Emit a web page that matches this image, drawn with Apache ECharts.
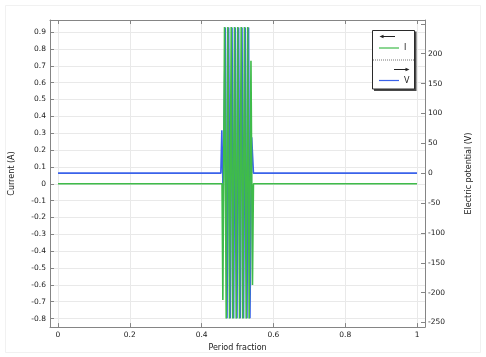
<!DOCTYPE html>
<html><head><meta charset="utf-8">
<script src="https://cdn.jsdelivr.net/npm/echarts@6/dist/echarts.min.js"></script>
<style>html,body{margin:0;padding:0;background:#fff}#c{width:486px;height:357px}</style>
</head><body><div id="c"></div>
<script>
// ---- tick values / labels ----
const xTicks = [0, 0.2, 0.4, 0.6, 0.8, 1];
const xTickLabels = ['0', '0.2', '0.4', '0.6', '0.8', '1'];
const currentTicks = [-0.8, -0.7, -0.6, -0.5, -0.4, -0.3, -0.2, -0.1, 0, 0.1, 0.2, 0.3, 0.4, 0.5, 0.6, 0.7, 0.8, 0.9];
const currentTickLabels = ['-0.8', '-0.7', '-0.6', '-0.5', '-0.4', '-0.3', '-0.2', '-0.1', '0', '0.1', '0.2', '0.3', '0.4', '0.5', '0.6', '0.7', '0.8', '0.9'];
const potentialTicks = [-250, -200, -150, -100, -50, 0, 50, 100, 150, 200, 250];
const potentialLabelValues = [-250, -200, -150, -100, -50, 0, 50, 100, 150, 200];
const potentialTickLabels = ['-250', '-200', '-150', '-100', '-50', '0', '50', '100', '150', '200'];

// ---- series: current I (A) ----
const periodI = [0, 0.4569, 0.4592, 0.4639, 0.4686, 0.4731, 0.4778, 0.4825, 0.4869, 0.4917, 0.4964, 0.5008, 0.5056, 0.5103, 0.5147, 0.5194, 0.5242, 0.5286, 0.5325, 0.5375, 0.5417, 0.5444, 1];
const currentI = [0, 0, -0.69, 0.93, -0.80, 0.93, -0.80, 0.93, -0.80, 0.93, -0.80, 0.93, -0.80, 0.93, -0.80, 0.93, -0.80, 0.93, -0.80, 0.73, -0.60, 0, 0];

// ---- series: electric potential V (V) ----
const periodV = [0, 0.4536, 0.4564, 0.4600, 0.4661, 0.4708, 0.4753, 0.4800, 0.4847, 0.4892, 0.4939, 0.4986, 0.5031, 0.5078, 0.5125, 0.5169, 0.5217, 0.5264, 0.5308, 0.5347, 0.5395, 0.5444, 1];
const potentialV = [0, 0, 72, -40, 244, -243, 244, -243, 244, -243, 244, -243, 244, -243, 244, -243, 244, -243, 244, -243, 60, 0, 0];

const FONT = 'DejaVu Sans';
const AXIS_COLOR = '#858585';
const GRID_COLOR = '#e9e9e9';
const TEXT_COLOR = '#1a1a1a';

function nearestLabel(vals, labels, v) {
  let best = 0;
  for (let i = 1; i < vals.length; i++) if (Math.abs(vals[i] - v) < Math.abs(vals[best] - v)) best = i;
  return labels[best];
}

const chart = echarts.init(document.getElementById('c'), null, {renderer: 'canvas'});
chart.setOption({
  animation: false,
  backgroundColor: '#fff',
  textStyle: {fontFamily: FONT},
  grid: {left: 49, right: 61, top: 20, bottom: 24, containLabel: false},
  xAxis: [{
    type: 'value', min: -0.02222, max: 1.02222, position: 'bottom',
    name: 'Period fraction', nameLocation: 'middle', nameGap: 12,
    nameTextStyle: {fontSize: 8, color: TEXT_COLOR, fontFamily: FONT},
    axisLine: {show: true, onZero: false, lineStyle: {color: AXIS_COLOR, width: 1}},
    axisTick: {show: true, inside: true, length: 4, customValues: xTicks, lineStyle: {color: AXIS_COLOR}},
    axisLabel: {customValues: xTicks, fontSize: 7.5, color: TEXT_COLOR, margin: 4, fontFamily: FONT,
      formatter: v => nearestLabel(xTicks, xTickLabels, v)},
    splitLine: {show: true, lineStyle: {color: GRID_COLOR, width: 1}}
  }, {
    type: 'value', min: -0.02222, max: 1.02222, position: 'top',
    axisLine: {show: true, onZero: false, lineStyle: {color: AXIS_COLOR, width: 1}},
    axisTick: {show: true, inside: true, length: 4, customValues: xTicks, lineStyle: {color: AXIS_COLOR}},
    axisLabel: {show: false},
    splitLine: {show: false}
  }],
  yAxis: [{
    type: 'value', min: -0.8504, max: 0.9715, position: 'left',
    name: 'Current (A)', nameLocation: 'middle', nameGap: 34, nameRotate: 90,
    nameTextStyle: {fontSize: 8, color: TEXT_COLOR, fontFamily: FONT},
    axisLine: {show: true, onZero: false, lineStyle: {color: AXIS_COLOR, width: 1}},
    axisTick: {show: true, inside: true, length: 4, customValues: currentTicks, lineStyle: {color: AXIS_COLOR}},
    axisLabel: {customValues: currentTicks, fontSize: 7.5, color: TEXT_COLOR, margin: 4, fontFamily: FONT,
      formatter: v => nearestLabel(currentTicks, currentTickLabels, v)},
    splitLine: {show: true, lineStyle: {color: GRID_COLOR, width: 1}}
  }, {
    type: 'value', min: -257.7, max: 256.4, position: 'right',
    name: 'Electric potential (V)', nameLocation: 'middle', nameGap: 40, nameRotate: 90,
    nameTextStyle: {fontSize: 8, color: TEXT_COLOR, fontFamily: FONT},
    axisLine: {show: true, onZero: false, lineStyle: {color: AXIS_COLOR, width: 1}},
    axisTick: {show: true, inside: true, length: 4, customValues: potentialTicks, lineStyle: {color: AXIS_COLOR}},
    axisLabel: {customValues: potentialLabelValues, fontSize: 7.5, color: TEXT_COLOR, margin: 3, fontFamily: FONT,
      formatter: v => nearestLabel(potentialLabelValues, potentialTickLabels, v)},
    splitLine: {show: false}
  }],
  legend: [{
    data: ['I'], left: 379, top: 44, padding: 0, icon: 'rect', itemWidth: 20, itemHeight: 1.2,
    textStyle: {fontSize: 8, color: TEXT_COLOR, fontFamily: FONT}, z: 10
  }, {
    data: ['V'], left: 379, top: 76.5, padding: 0, icon: 'rect', itemWidth: 20, itemHeight: 1.2,
    textStyle: {fontSize: 8, color: TEXT_COLOR, fontFamily: FONT}, z: 10
  }],
  series: [{
    name: 'V', type: 'line', xAxisIndex: 0, yAxisIndex: 1,
    data: periodV.map((x, i) => [x, potentialV[i]]),
    showSymbol: false, symbol: 'none', sampling: 'none',
    lineStyle: {color: '#3a62ea', width: 1.6}, itemStyle: {color: '#3a62ea'}, z: 2
  }, {
    name: 'I', type: 'line', xAxisIndex: 0, yAxisIndex: 0,
    data: periodI.map((x, i) => [x, currentI[i]]),
    showSymbol: false, symbol: 'none', sampling: 'none',
    lineStyle: {color: '#3fbb4a', width: 1.6}, itemStyle: {color: '#3fbb4a'}, z: 3
  }],
  graphic: [
    {type: 'rect', z: 0, silent: true, shape: {x: 5.5, y: 5.5, width: 475, height: 347}, style: {fill: null, stroke: '#f1f1f1', lineWidth: 1}},
    {type: 'rect', z: 5, silent: true, shape: {x: 374, y: 31.5, width: 42.5, height: 59.5}, style: {fill: '#4a4a4a'}},
    {type: 'rect', z: 6, silent: true, shape: {x: 372.5, y: 30.5, width: 42, height: 58.5}, style: {fill: '#fff', stroke: '#2a2a2a', lineWidth: 1}},
    {type: 'line', z: 7, silent: true, shape: {x1: 373, y1: 60, x2: 414, y2: 60}, style: {stroke: '#777', lineWidth: 1, lineDash: [1, 1]}},
    {type: 'line', z: 7, silent: true, shape: {x1: 382, y1: 36.5, x2: 395, y2: 36.5}, style: {stroke: '#222', lineWidth: 1}},
    {type: 'polygon', z: 7, silent: true, shape: {points: [[379.5, 36.5], [383.5, 34.8], [383.5, 38.2]]}, style: {fill: '#222'}},
    {type: 'line', z: 7, silent: true, shape: {x1: 394, y1: 69.5, x2: 407, y2: 69.5}, style: {stroke: '#222', lineWidth: 1}},
    {type: 'polygon', z: 7, silent: true, shape: {points: [[409.5, 69.5], [405.5, 67.8], [405.5, 71.2]]}, style: {fill: '#222'}}
  ]
});
</script>
</body></html>
